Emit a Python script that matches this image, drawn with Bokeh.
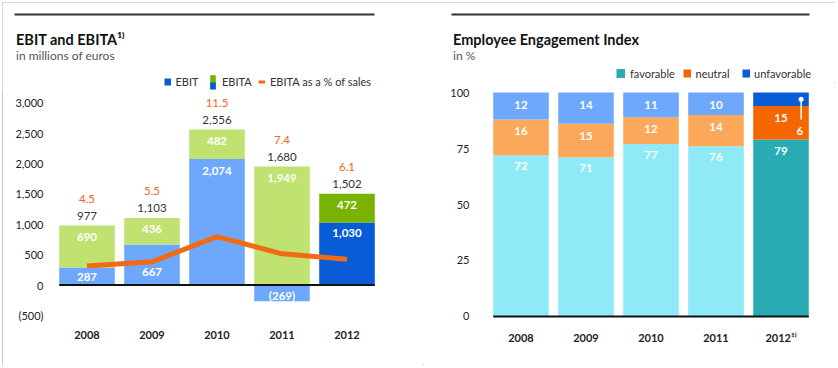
from bokeh.plotting import figure
from bokeh.models import (FactorRange, Range1d, FixedTicker, NumeralTickFormatter,
                          ColumnDataSource, Legend, LegendItem)
from bokeh.layouts import row, column
from bokeh.transform import dodge
from bokeh.core.properties import value
from bokeh.embed import file_html
from bokeh.resources import INLINE

# ---------------- data ----------------
years = ["2008", "2009", "2010", "2011", "2012"]
ebit = [287, 667, 2074, -269, 1030]
ebita = [977, 1103, 2556, 1680, 1502]
ebita_pct_of_sales = [4.5, 5.5, 11.5, 7.4, 6.1]
left_ticks = [-500, 0, 500, 1000, 1500, 2000, 2500, 3000]

eei_years = ["2008", "2009", "2010", "2011", "2012\u00b9\u207e"]
favorable = [72, 71, 77, 76, 79]
neutral = [16, 15, 12, 14, 15]
unfavorable = [12, 14, 11, 10, 6]
right_ticks = [0, 25, 50, 75, 100]

# ---------------- styles ----------------
FONT = "Lato"
LBLUE, DBLUE = "#6ea8fc", "#0a5bd6"
LGREEN, DGREEN = "#bfe271", "#77b300"
ORANGE = "#f26a12"
ORANGE_TXT = "#f26522"
CYAN, TEAL = "#8eeaf7", "#29abb4"
LORANGE, DORANGE = "#fca85a", "#f46600"
TXT = "#333333"
ebit_colors = [LBLUE] * 4 + [DBLUE]
green_colors = [LGREEN] * 4 + [DGREEN]
ebit_label_dy = [9, 28, 12, 10, 11]
fav_colors = [CYAN] * 4 + [TEAL]
neu_colors = [LORANGE] * 4 + [DORANGE]
unf_colors = [LBLUE] * 4 + [DBLUE]
BAR_W = 0.855


def fmt(v):
    return f"({abs(v):,})" if v < 0 else f"{v:,}"


def style_axes(p, standoff_y):
    for ax in (p.xaxis[0], p.yaxis[0]):
        ax.axis_line_color = None
        ax.major_tick_line_color = None
        ax.minor_tick_line_color = None
        ax.major_tick_out = 0
        ax.major_tick_in = 0
        ax.major_label_text_font = FONT
        ax.major_label_text_font_size = "11px"
        ax.major_label_text_color = "#222222"
    p.xaxis.major_label_standoff = 5
    p.xaxis.major_label_text_font_style = "bold"
    p.yaxis.major_label_standoff = standoff_y
    p.xgrid.visible = False
    p.ygrid.visible = False


def header(width, height, x0, y0, title, subtitle, rule_l, rule_r):
    # header strip, coordinates in page pixels (y downward)
    h = figure(x_range=Range1d(x0, x0 + width), y_range=Range1d(y0 + height, y0),
               width=width, height=height, min_border=0, x_axis_type=None, y_axis_type=None,
               frame_align=False, output_backend="svg", toolbar_location=None,
               outline_line_color=None)
    h.segment(x0=[rule_l], x1=[rule_r], y0=[14], y1=[14], line_width=2, line_color="#333333")
    h.text(x=[rule_l + 1.5], y=[39], text=[title], text_font=value(FONT),
           text_font_size="14.5px", text_font_style="bold", text_color="#111111",
           text_baseline="alphabetic")
    h.text(x=[rule_l + 1.5], y=[55], text=[subtitle], text_font=value(FONT),
           text_font_size="12px", text_color="#555555", text_baseline="alphabetic")
    return h


def add_legend(h, fl, fb, label, r, px, pyc, gw, gh, standoff, fs="11px"):
    leg = Legend(items=[LegendItem(label=label, renderers=[r])],
                 location=(px - fl, fb - pyc - gh / 2), orientation="horizontal",
                 glyph_width=gw, glyph_height=gh, label_height=gh, label_width=1,
                 label_standoff=standoff, padding=0, margin=0, spacing=0,
                 border_line_color=None, background_fill_alpha=0,
                 label_text_font=FONT, label_text_font_size=fs,
                 label_text_color=TXT, label_text_baseline="middle")
    h.add_layout(leg)


def swatch_line(h, width, color):
    # legend-only renderer: a single point draws no visible line
    return h.line(x=[0], y=[0], line_width=width, line_color=color)


def swatch_box(h, color):
    # legend-only renderer: a zero-height bar draws nothing
    return h.vbar(x=[0], top=[0], bottom=0, width=1, fill_color=color, line_color=None)


# ---------------- left chart: EBIT and EBITA ----------------
amort = [a - e for a, e in zip(ebita, ebit)]
green_bottom = [max(e, 0) for e in ebit]
green_top = [b + a for b, a in zip(green_bottom, amort)]

src1 = ColumnDataSource(dict(
    year=years, ebit=ebit, ebit_top=green_bottom, gb=green_bottom, gt=green_top,
    pct=ebita_pct_of_sales, ebit_c=ebit_colors, green_c=green_colors,
    ebit_lbl=[fmt(v) for v in ebit], amort_lbl=[fmt(v) for v in amort],
    ebita_lbl=[fmt(v) for v in ebita], pct_lbl=[f"{v:.1f}" for v in ebita_pct_of_sales],
    ebit_dy=ebit_label_dy))

Y0, Y1 = -666, 3117
PCT_SCALE = 69.3

h1 = header(421, 89, 2, 2, "EBIT and EBITA\u00b9\u207e", "in millions of euros", 14, 374)
add_legend(h1, 2, 91, "EBIT", swatch_line(h1, 7, DBLUE), 163.5, 81, 7, 17, 5)
add_legend(h1, 2, 91, "EBITA", swatch_box(h1, DGREEN), 209, 81, 7, 17, 6)
add_legend(h1, 2, 91, " ", swatch_box(h1, DBLUE), 209, 85.5, 7, 9, 0, "1px")
add_legend(h1, 2, 91, "EBITA as a % of sales", swatch_line(h1, 3, ORANGE), 258, 81, 7, 17, 5)

p1 = figure(x_range=FactorRange(*years), y_range=Range1d(Y0, Y1),
            width=421, height=274, min_border_left=52, min_border_right=44,
            min_border_top=4, min_border_bottom=40, frame_align=False,
            output_backend="svg", toolbar_location=None, outline_line_color=None)
p1.extra_y_ranges = {"pct": Range1d(Y0 / PCT_SCALE, Y1 / PCT_SCALE)}

p1.vbar(x="year", bottom=0, top="ebit", width=BAR_W, fill_color="ebit_c",
        line_color=None, source=src1)
p1.vbar(x="year", bottom="gb", top="gt", width=BAR_W, fill_color="green_c",
        line_color=None, source=src1)
zsrc1 = ColumnDataSource(dict(a=[years[0]], b=[years[-1]]))
p1.segment(x0=dodge("a", -BAR_W / 2, range=p1.x_range), x1=dodge("b", BAR_W / 2, range=p1.x_range),
           y0=0, y1=0, line_color="#111111", line_width=2, source=zsrc1)
p1.line(x="year", y="pct", y_range_name="pct", line_width=5, line_color=ORANGE,
        line_join="round", source=src1)

common = dict(x="year", source=src1, text_font=value(FONT), text_align="center",
              text_baseline="middle", text_font_size="11.5px")
p1.text(y="ebit_top", text="ebit_lbl", y_offset="ebit_dy", text_color="white",
        text_font_style="bold", **common)
p1.text(y="gt", text="amort_lbl", y_offset=11, text_color="white",
        text_font_style="bold", **common)
p1.text(y="gt", text="ebita_lbl", y_offset=-10, text_color=TXT, **common)
p1.text(y="gt", text="pct_lbl", y_offset=-27, text_color=ORANGE_TXT, **common)

p1.yaxis.ticker = FixedTicker(ticks=left_ticks)
p1.yaxis.formatter = NumeralTickFormatter(format="(0,0)")
style_axes(p1, 11)

# ---------------- right chart: Employee Engagement Index ----------------
neu_top = [f + n for f, n in zip(favorable, neutral)]
unf_top = [a + u for a, u in zip(neu_top, unfavorable)]
src2 = ColumnDataSource(dict(
    year=eei_years, fav=favorable, neu=neu_top, unf=unf_top,
    fav_c=fav_colors, neu_c=neu_colors, unf_c=unf_colors,
    fav_lbl=[str(v) for v in favorable], neu_lbl=[str(v) for v in neutral],
    unf_lbl=[str(v) for v in unfavorable]))
src2a = ColumnDataSource({k: v[:4] for k, v in src2.data.items()})
src2b = ColumnDataSource({k: v[4:] for k, v in src2.data.items()})

h2 = header(412, 80, 423, 2, "Employee Engagement Index", "in %", 451, 809)
add_legend(h2, 423, 82, "favorable", swatch_line(h2, 9, TEAL), 616, 73, 9, 14, 5)
add_legend(h2, 423, 82, "neutral", swatch_line(h2, 8, DORANGE), 682.5, 73, 8, 14, 5)
add_legend(h2, 423, 82, "unfavorable", swatch_line(h2, 8, DBLUE), 742, 73, 8, 14, 4)

p2 = figure(x_range=FactorRange(*eei_years), y_range=Range1d(-4.02, 101.79),
            width=412, height=283, min_border_left=65, min_border_right=22,
            min_border_top=6, min_border_bottom=40, frame_align=False,
            output_backend="svg", toolbar_location=None, outline_line_color=None)
p2.vbar(x="year", bottom=0, top="fav", width=BAR_W, fill_color="fav_c",
        line_color=None, source=src2)
p2.vbar(x="year", bottom="fav", top="neu", width=BAR_W, fill_color="neu_c",
        line_color=None, source=src2)
p2.vbar(x="year", bottom="neu", top="unf", width=BAR_W, fill_color="unf_c",
        line_color=None, source=src2)
zsrc2 = ColumnDataSource(dict(a=[eei_years[0]], b=[eei_years[-1]]))
p2.segment(x0=dodge("a", -BAR_W / 2, range=p2.x_range), x1=dodge("b", BAR_W / 2, range=p2.x_range),
           y0=0, y1=0, line_color="#111111", line_width=2, source=zsrc2)

common2 = dict(text_font=value(FONT), text_align="center", text_baseline="middle",
               text_font_size="11.5px", text_color="white", text_font_style="bold")
p2.text(x="year", y="fav", text="fav_lbl", y_offset=11, source=src2, **common2)
p2.text(x="year", y="neu", text="neu_lbl", y_offset=12, source=src2, **common2)
p2.text(x="year", y="unf", text="unf_lbl", y_offset=12, source=src2a, **common2)
# 2012: unfavorable value shown beside a pointer line
p2.text(x=dodge("year", 0.29, range=p2.x_range), y="neu", text="unf_lbl", y_offset=25,
        source=src2b, **common2)
ptr = ColumnDataSource(dict(year=[eei_years[4]],
                            y0=[unf_top[4] - unfavorable[4] / 2],
                            y1=[neu_top[4] - unfavorable[4]]))
p2.segment(x0=dodge("year", 0.31, range=p2.x_range), x1=dodge("year", 0.31, range=p2.x_range),
           y0="y0", y1="y1", line_color="white", line_width=1.5, source=ptr)
p2.scatter(x=dodge("year", 0.31, range=p2.x_range), y="y0", size=5, marker="circle",
           fill_color="white", line_color=None, source=ptr)

p2.yaxis.ticker = FixedTicker(ticks=right_ticks)
style_axes(p2, 19)

layout = row(column(h1, p1), column(h2, p2), margin=(2, 0, 0, 2),
             styles={"outline": "1px solid #b5b5b5", "outline-offset": "-1px"})

open("out.html", "w").write(file_html(layout, INLINE))
